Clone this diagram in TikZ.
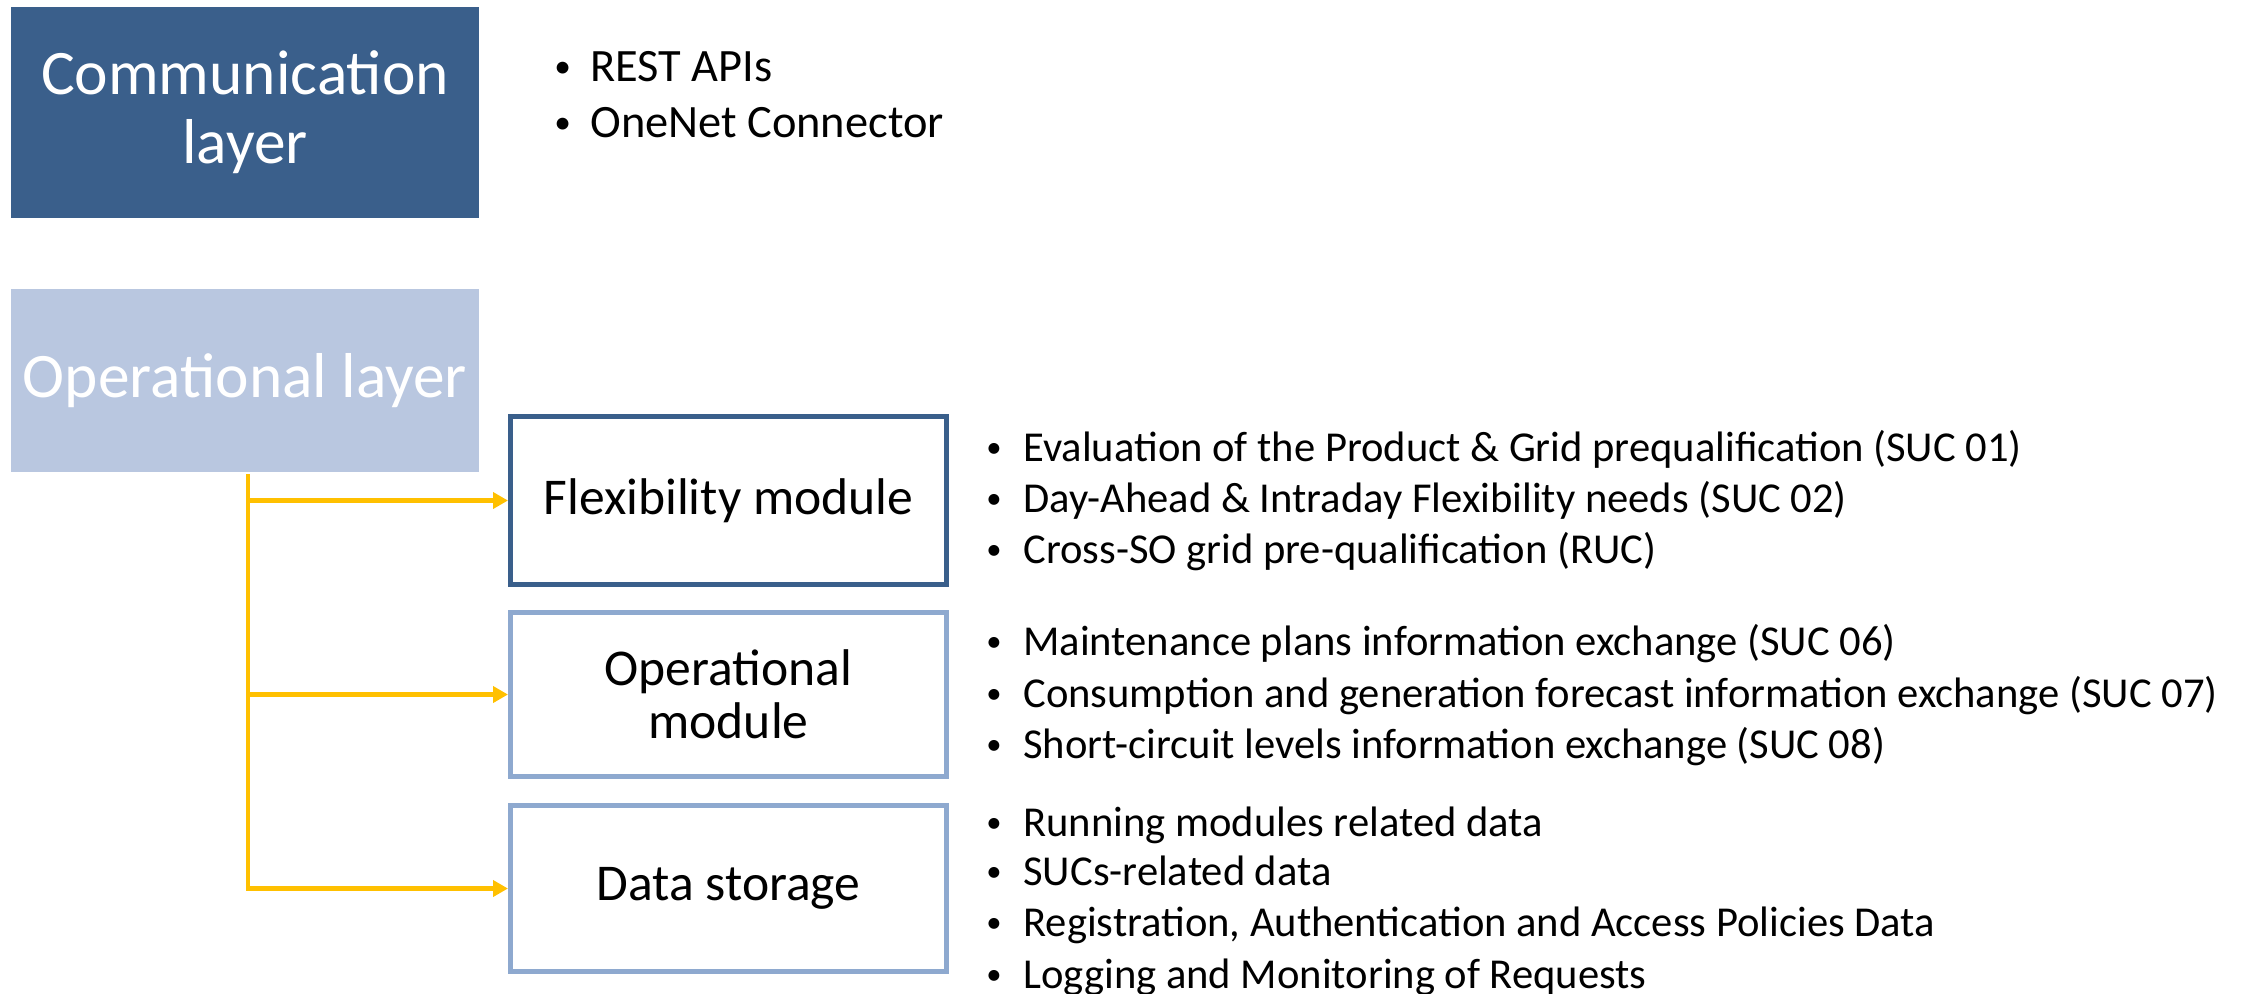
\documentclass[tikz,border=0pt]{standalone}
\usepackage{fontspec}
\setmainfont{Carlito}
\usetikzlibrary{arrows.meta}
\definecolor{commblue}{HTML}{3A5F8B}
\definecolor{oplight}{HTML}{B9C7E0}
\definecolor{modborder}{HTML}{8EA9CF}
\definecolor{arrowyellow}{HTML}{FFC000}
\newcommand{\smallbul}[1]{\makebox[#1][l]{\raisebox{0.1em}{\scalebox{0.72}{•}}}}
\begin{document}
\begin{tikzpicture}[x=0.5pt,y=-0.5pt,
  layerbox/.style={anchor=north west, inner sep=0, outer sep=0, text=white, align=center,
    minimum width=234pt, font=\fontsize{31.7}{34.5}\selectfont},
  modbox/.style={anchor=north west, inner sep=0, outer sep=1.25pt, fill=white, align=center,
    minimum width=218pt, line width=2.5pt, font=\fontsize{25.8}{26.5}\selectfont},
  bul/.style={anchor=mid west, inner sep=0, font=\fontsize{21.3}{26}\selectfont},
  topbul/.style={anchor=mid west, inner sep=0, font=\fontsize{23.2}{28}\selectfont},
  feed/.style={draw=arrowyellow, line width=2.25pt, -{Triangle[length=7.5pt,width=8pt]}}
]
\useasboundingbox (0,0) rectangle (2244,993);
\fill[white] (0,0) rectangle (2244,993);

\node[layerbox, fill=commblue, minimum height=105.5pt] (comm) at (11,7) {Communication\\layer};
\node[layerbox, fill=oplight, minimum height=91.5pt] (oplayer) at (11,289) {Operational layer};

\node[topbul] (t1) at (554,77) {\smallbul{18pt}REST APIs};
\node[topbul] (t2) at (554,133) {\smallbul{18pt}OneNet Connector};

\node[modbox, draw=commblue, minimum height=84pt] (flex) at (508,414) {Flexibility module};
\node[modbox, draw=modborder, minimum height=82pt] (opmod) at (508,610) {Operational\\module};
\node[modbox, draw=modborder, minimum height=83pt] (data) at (508,803) {Data storage};

\coordinate (trunk) at (248,474);
\draw[feed] (trunk) |- (flex.west);
\draw[feed] (trunk) |- (opmod.west);
\draw[feed] (trunk) |- (data.west);

\node[bul] (f1) at (986,457) {\smallbul{18.5pt}Evaluation of the Product \& Grid prequalification (SUC 01)};
\node[bul] (f2) at (986,508) {\smallbul{18.5pt}Day-Ahead \& Intraday Flexibility needs (SUC 02)};
\node[bul] (f3) at (986,559) {\smallbul{18.5pt}Cross-SO grid pre-qualification (RUC)};

\node[bul] (o1) at (986,651) {\smallbul{18.5pt}Maintenance plans information exchange (SUC 06)};
\node[bul] (o2) at (986,703) {\smallbul{18.5pt}Consumption and generation forecast information exchange (SUC 07)};
\node[bul] (o3) at (986,754) {\smallbul{18.5pt}Short-circuit levels information exchange (SUC 08)};

\node[bul] (d1) at (986,832) {\smallbul{18.5pt}Running modules related data};
\node[bul] (d2) at (986,881) {\smallbul{18.5pt}SUCs-related data};
\node[bul] (d3) at (986,932) {\smallbul{18.5pt}Registration, Authentication and Access Policies Data};
\node[bul] (d4) at (986,984) {\smallbul{18.5pt}Logging and Monitoring of Requests};
\end{tikzpicture}
\end{document}
